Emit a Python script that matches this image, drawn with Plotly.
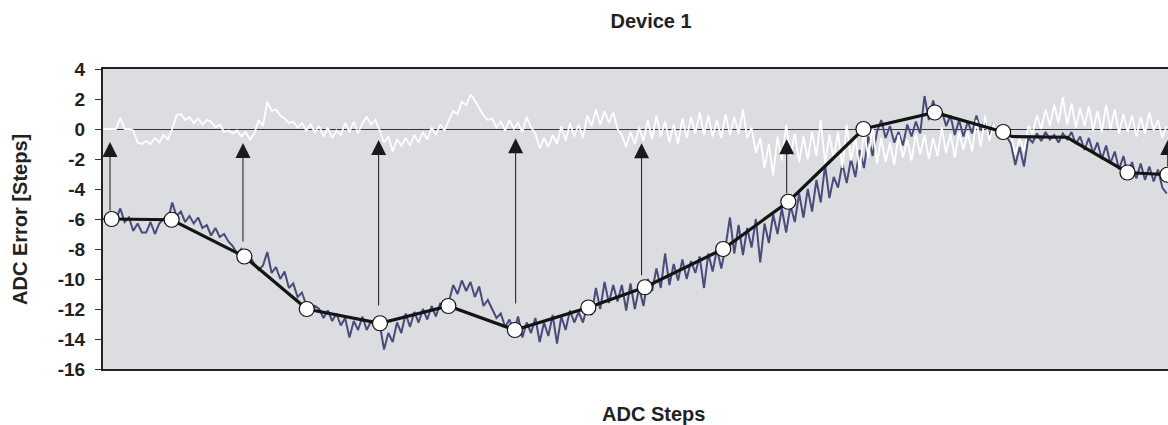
import numpy as np
import plotly.graph_objects as go

# ---------------- data ----------------
SAMPLE_STEP = 16  # ADC codes between stored samples

raw_error = [
    -6.0, -6.0, -6.1, -6.0, -5.3, -6.2, -5.9, -6.8, -6.3, -6.9,
    -6.9, -6.2, -7.0, -6.3, -6.0, -6.1, -4.9, -5.8, -5.5, -6.2,
    -5.8, -6.3, -5.9, -6.6, -6.4, -7.1, -6.6, -7.2, -7.0, -7.5,
    -7.8, -8.3, -8.0, -8.7, -8.5, -9.0, -9.4, -9.1, -8.2, -9.6,
    -9.2, -10.0, -9.5, -10.6, -10.3, -11.2, -10.9, -11.7, -12.2, -11.8,
    -12.0, -12.6, -12.1, -12.8, -12.3, -13.1, -12.6, -13.9, -12.8, -13.4,
    -12.5, -13.4, -12.8, -13.3, -13.0, -14.7, -13.6, -14.2, -12.9, -13.6,
    -12.3, -13.2, -12.2, -12.9, -12.0, -12.7, -11.8, -12.5, -11.6, -12.2,
    -11.5, -10.4, -11.0, -10.1, -10.8, -10.2, -11.2, -10.5, -11.8, -11.4,
    -12.0, -12.6, -12.3, -13.2, -12.7, -13.5, -12.5, -13.9, -12.9, -13.6,
    -12.6, -14.2, -12.9, -13.8, -12.4, -14.3, -12.5, -13.4, -12.1, -12.9,
    -12.2, -12.9, -11.8, -12.4, -10.6, -12.0, -10.2, -11.6, -10.4, -11.5,
    -10.4, -12.1, -10.3, -12.0, -10.6, -11.8, -10.0, -10.8, -9.3, -10.6,
    -8.3, -10.4, -9.0, -10.1, -8.7, -10.0, -8.8, -9.6, -8.5, -10.6,
    -8.3, -9.5, -8.0, -9.3, -7.8, -5.9, -8.3, -6.4, -8.4, -6.6,
    -7.9, -6.0, -8.9, -6.3, -7.6, -5.7, -7.0, -5.3, -6.9, -5.1,
    -6.2, -4.3, -5.9, -4.0, -5.5, -3.4, -4.9, -2.4, -4.6, -3.2,
    -3.9, -2.3, -3.6, -2.0, -3.2, -1.4, -2.6, -0.5, -1.8, -0.2,
    0.6, -0.6, 0.2, -0.9, -0.2, -1.1, 0.3, -0.5, 0.5, -0.3,
    2.2, 0.6, 1.9, 0.8, 1.2, 0.2, 0.9, -0.4, 0.6, -0.5,
    0.5, -0.3, 0.9, -0.1, 0.6, -0.4, 0.4, -0.6, 0.2, -0.5,
    -1.0, -2.4, -1.2, -2.5, -0.6, -0.9, -0.3, -0.8, -0.2, -0.7,
    -0.4, -0.9, -0.3, -0.7, -0.2, -1.0, -0.5, -1.4, -0.6, -1.6,
    -0.9, -2.0, -1.1, -2.3, -1.5, -2.7, -1.8, -3.0, -2.2, -3.3,
    -2.3, -3.4, -2.5, -3.5, -2.7, -3.9, -4.3,
]

corrected_error = [
    0.0, 0.0, 0.0, 0.0, 0.75, 0.0, 0.0, -0.1, -0.9, -1.0,
    -0.8, -1.0, -0.6, -0.9, -0.4, -0.7, 0.0, 0.9, 1.0, 0.6,
    0.8, 0.4, 0.7, 0.3, 0.6, 0.5, 0.1, 0.3, -0.2, -0.1,
    -0.3, -0.1, -0.5, -0.2, -0.7, -0.3, 0.6, 0.2, 1.8, 1.2,
    1.3, 0.9, 0.7, 0.4, 0.5, 0.1, 0.4, -0.1, 0.3, -0.2,
    0.2, -0.5, 0.1, -0.6, -0.1, -0.4, 0.4, -0.2, 0.5, -0.3,
    0.4, 0.8, 0.3, 0.6, -0.1, -0.9, -0.5, -1.5, -0.7, -1.1,
    -0.6, -1.1, -0.4, -0.9, -0.2, -0.7, 0.1, -0.4, 0.3, -0.1,
    0.6, 1.2, 1.0, 1.8, 1.6, 2.3, 1.9, 1.4, 0.9, 0.6,
    0.7, 0.1, 0.5, -0.1, 0.6, 0.0, 0.4, -0.2, 0.8, 0.1,
    -0.3, -1.3, -0.6, -1.2, -0.4, -1.0, 0.2, -0.8, 0.4, -0.5,
    0.3, -0.6, 0.9, 0.2, 1.3, 0.3, 1.2, 0.4, 1.1, 0.0,
    -0.4, -1.2, -0.2, -1.0, 0.1, -0.8, 0.6, -0.7, 0.9, -0.5,
    0.5, -0.9, 0.3, -1.0, 0.7, -0.6, 0.8, -0.3, 1.1, -0.4,
    0.9, -0.5, 0.6, -0.6, 1.0, -0.4, 0.8, -0.3, 1.3, -0.6,
    0.1, -1.6, -0.6, -2.6, -1.0, -3.1, -0.5, -2.1, 0.3, -1.8,
    -0.3, -2.2, -0.5, -2.0, -0.2, -1.8, 0.6, -2.3, -0.4, -2.0,
    -0.2, -2.6, 0.3, -2.1, -0.5, -2.8, -0.1, -1.9, 0.2, -2.3,
    -0.6, -2.2, -0.9, -2.4, -0.4, -1.9, -0.7, -2.1, -0.3, -1.7,
    -0.4, -2.0, -0.6, -1.8, 0.1, -1.6, -0.3, -1.9, -0.2, -1.4,
    -0.2, -1.5, 0.6, -1.2, 0.9, -0.8, 0.4, -0.6, 0.3, -0.5,
    -0.4, -1.7, -0.6, -1.5, 0.2, -0.3, 0.9, 0.0, 1.3, 0.2,
    1.6, 0.4, 2.1, 0.3, 1.7, 0.1, 1.4, 0.2, 1.5, -0.1,
    1.2, -0.2, 1.6, 0.0, 1.3, -0.3, 1.0, -0.2, 0.9, -0.5,
    0.8, -0.3, 1.1, -0.1, 0.6, -0.6, 0.2,
]

# piecewise-linear fit (knots)
fit_x = [32, 254, 523, 754, 1025, 1278, 1524, 1796, 2005, 2295, 2536, 2814,
         3078, 3331, 3363, 3567, 3791, 3939, 4060]
fit_y = [-6.0, -6.05, -8.5, -12.0, -12.95, -11.8, -13.4, -11.9, -10.55, -8.0,
         -4.85, 0.0, 1.1, -0.2, -0.5, -0.55, -2.9, -3.05, -4.3]
fit_marked = [1, 1, 1, 1, 1, 1, 1, 1, 1, 1, 1, 1, 1, 1, 0, 0, 1, 1, 0]

# correction arrows: x position, arrow tip, arrow start
arrow_x = [26, 518, 1020, 1527, 1993, 2530, 3940]
arrow_tip = [-0.87, -0.93, -0.73, -0.62, -0.95, -0.69, -0.73]
arrow_base = [-5.55, -7.6, -11.87, -11.73, -9.85, -4.4, -2.6]

x_range = [0, 3941]
y_ticks = [4, 2, 0, -2, -4, -6, -8, -10, -12, -14, -16]
y_tick_text = ["4", "2", "0", "-2", "-4", "-6", "-8", "-10", "-12", "-14", "-16"]

# ---------------- figure ----------------
x_samples = np.arange(len(raw_error)) * SAMPLE_STEP
FONT = "Liberation Sans, Arial, sans-serif"

fig = go.Figure()
fig.add_trace(go.Scatter(x=x_samples, y=raw_error, mode="lines",
                         line=dict(color="#4b4b7b", width=2.0),
                         hoverinfo="skip", showlegend=False))
fig.add_trace(go.Scatter(x=x_samples, y=corrected_error, mode="lines",
                         line=dict(color="#ffffff", width=1.8),
                         hoverinfo="skip", showlegend=False))
fig.add_trace(go.Scatter(x=fit_x, y=fit_y, mode="lines",
                         line=dict(color="#141414", width=3.2),
                         hoverinfo="skip", showlegend=False))
mx = [x for x, m in zip(fit_x, fit_marked) if m]
my = [y for y, m in zip(fit_y, fit_marked) if m]
fig.add_trace(go.Scatter(x=mx, y=my, mode="markers",
                         marker=dict(size=15, color="white",
                                     line=dict(color="#111111", width=1.2)),
                         hoverinfo="skip", showlegend=False))

for ax_, tip, base in zip(arrow_x, arrow_tip, arrow_base):
    fig.add_annotation(x=ax_, y=tip, ax=ax_, ay=base, xref="x", yref="y",
                       axref="x", ayref="y", text="", showarrow=True,
                       arrowhead=2, arrowsize=3, arrowwidth=1,
                       arrowcolor="#1a1a1a", standoff=0)

fig.add_annotation(text="<b>ADC Steps</b>", xref="paper", yref="paper",
                   x=0.517, y=-0.15, xanchor="center", yanchor="middle",
                   showarrow=False, font=dict(family=FONT, size=20, color="#222"))
fig.add_annotation(text="<b>ADC Error [Steps]</b>", xref="paper", yref="paper",
                   x=-0.078, y=0.5, xanchor="center", yanchor="middle",
                   textangle=-90, showarrow=False,
                   font=dict(family=FONT, size=20, color="#222"))

fig.update_layout(
    width=1168, height=425,
    margin=dict(l=103, r=0, t=69, b=56),
    paper_bgcolor="white", plot_bgcolor="#dcdde0",
    title=dict(text="<b>Device 1</b>", xref="paper", x=0.5146, xanchor="center",
               yref="container", y=0.95, yanchor="middle",
               font=dict(family=FONT, size=20, color="#222")),
    xaxis=dict(range=x_range, showticklabels=False, ticks="", showgrid=False,
               zeroline=False, showline=True, mirror=True, linecolor="#222",
               linewidth=2),
    yaxis=dict(range=[-16, 4], tickvals=y_ticks, ticktext=y_tick_text,
               ticks="outside", ticklen=6,
               tickwidth=1, tickcolor="#333", showgrid=False,
               zeroline=True, zerolinecolor="#333", zerolinewidth=1,
               showline=True, linecolor="#222", linewidth=2,
               ticklabelstandoff=6,
               tickfont=dict(family=FONT, size=19, color="#222", weight="bold")),
)

fig.write_html("out.html", config={"displayModeBar": False},
               post_script="document.body.style.margin='0';document.body.style.overflow='hidden';")
